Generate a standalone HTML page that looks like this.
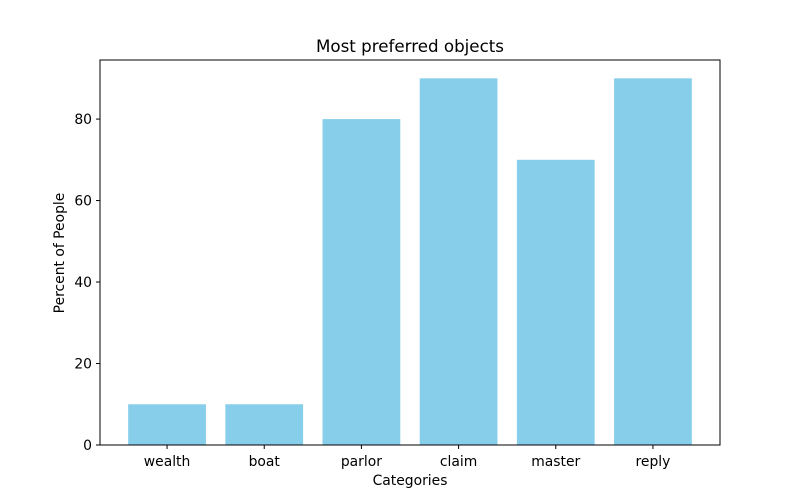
<!DOCTYPE html>
<html><head><meta charset="utf-8"><style>
body{margin:0;background:#fff}
svg{display:block;font-family:"DejaVu Sans","Liberation Sans",sans-serif}
</style></head><body>
<svg id="chart" width="800" height="500">
<rect width="800" height="500" fill="#fff"/>
<text x="410" y="52" text-anchor="middle" font-size="16.7">Most preferred objects</text>
<g id="bars"></g>
<g id="xticks"></g>
<g id="yticks"></g>
<rect x="100" y="60" width="620" height="385" fill="none" stroke="#000" stroke-width="1"/>
<text x="410" y="485" text-anchor="middle" font-size="13.9">Categories</text>
<text transform="translate(64,253) rotate(-90)" text-anchor="middle" font-size="13.9">Percent of People</text>
</svg>
<script>
const categories=["wealth","boat","parlor","claim","master","reply"];
const values=[10,10,80,90,70,90];
const yTicks=[0,20,40,60,80];
const L=100,R=720,T=60,B=445;
const ns="http://www.w3.org/2000/svg";
const ymax=Math.max(...values)*1.05;
const n=categories.length;
const xmin=-0.4-0.05*(n-1+0.8),xmax=n-1+0.4+0.05*(n-1+0.8);
const xs=v=>L+(v-xmin)/(xmax-xmin)*(R-L);
const ys=v=>B-v/ymax*(B-T);
const bw=xs(0.8)-xs(0);
function mk(t,a,p){const e=document.createElementNS(ns,t);for(const k in a)e.setAttribute(k,a[k]);p.appendChild(e);return e;}
const gb=document.getElementById('bars'),gx=document.getElementById('xticks'),gy=document.getElementById('yticks');
categories.forEach((c,i)=>{
 const r=mk('rect',{x:xs(i)-bw/2,y:ys(values[i]),width:bw,height:B-ys(values[i]),fill:'#87ceeb'},gb);
 
 
 const tk=mk('line',{x1:xs(i),x2:xs(i),y1:B,y2:B+4,stroke:'#000'},gx);
 
 
 const t=mk('text',{x:xs(i),y:B+21,'text-anchor':'middle','font-size':'13.9'},gx);
 t.textContent=c;
 
 
});
yTicks.forEach(v=>{
 const tk=mk('line',{x1:L-4,x2:L,y1:ys(v),y2:ys(v),stroke:'#000'},gy);
 
 
 const t=mk('text',{x:L-8,y:ys(v)+5,'text-anchor':'end','font-size':'13.9'},gy);
 t.textContent=v;
 
 
});
</script>
</body></html>
